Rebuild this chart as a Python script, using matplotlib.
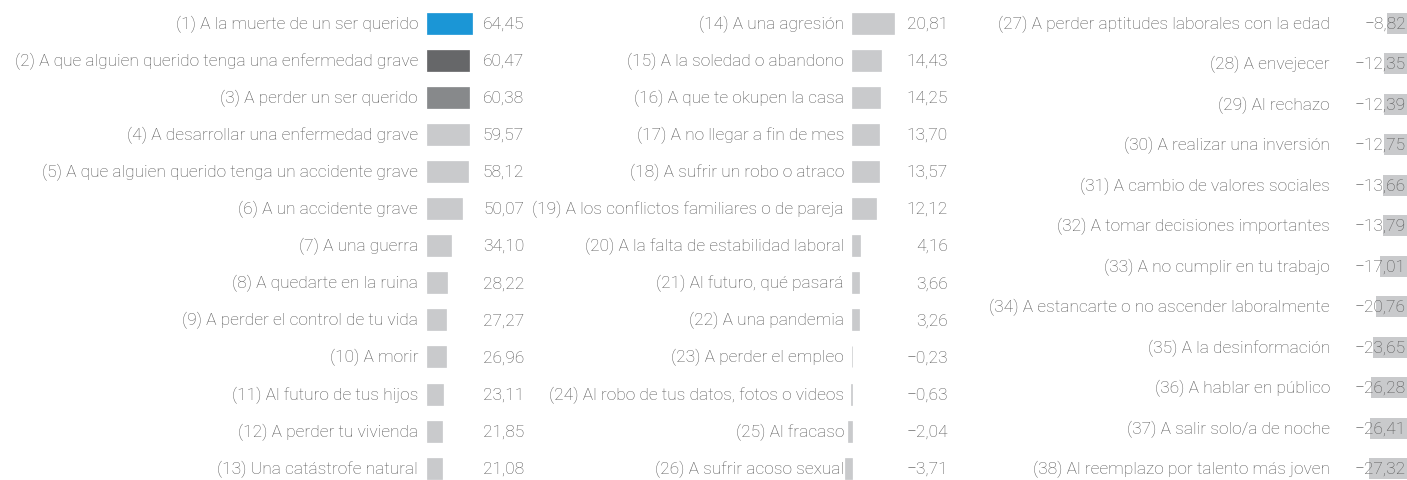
import matplotlib
matplotlib.use('Agg')
import matplotlib.pyplot as plt
from matplotlib.transforms import blended_transform_factory

plt.rcParams['font.family'] = ['Roboto', 'DejaVu Sans']

# Data, one list per column
labels_1 = ["(1) A la muerte de un ser querido",
            "(2) A que alguien querido tenga una enfermedad grave",
            "(3) A perder un ser querido",
            "(4) A desarrollar una enfermedad grave",
            "(5) A que alguien querido tenga un accidente grave",
            "(6) A un accidente grave",
            "(7) A una guerra",
            "(8) A quedarte en la ruina",
            "(9) A perder el control de tu vida",
            "(10) A morir",
            "(11) Al futuro de tus hijos",
            "(12) A perder tu vivienda",
            "(13) Una catástrofe natural"]
values_1 = [64.45, 60.47, 60.38, 59.57, 58.12, 50.07, 34.10, 28.22, 27.27, 26.96, 23.11, 21.85, 21.08]

labels_2 = ["(14) A una agresión",
            "(15) A la soledad o abandono",
            "(16) A que te okupen la casa",
            "(17) A no llegar a fin de mes",
            "(18) A sufrir un robo o atraco",
            "(19) A los conflictos familiares o de pareja",
            "(20) A la falta de estabilidad laboral",
            "(21) Al futuro, qué pasará",
            "(22) A una pandemia",
            "(23) A perder el empleo",
            "(24) Al robo de tus datos, fotos o videos",
            "(25) Al fracaso",
            "(26) A sufrir acoso sexual"]
values_2 = [20.81, 14.43, 14.25, 13.70, 13.57, 12.12, 4.16, 3.66, 3.26, -0.23, -0.63, -2.04, -3.71]

labels_3 = ["(27) A perder aptitudes laborales con la edad",
            "(28) A envejecer",
            "(29) Al rechazo",
            "(30) A realizar una inversión",
            "(31) A cambio de valores sociales",
            "(32) A tomar decisiones importantes",
            "(33) A no cumplir en tu trabajo",
            "(34) A estancarte o no ascender laboralmente",
            "(35) A la desinformación",
            "(36) A hablar en público",
            "(37) A salir solo/a de noche",
            "(38) Al reemplazo por talento más joven"]
values_3 = [-8.82, -12.35, -12.39, -12.75, -13.66, -13.79, -17.01, -20.76, -23.65, -26.28, -26.41, -27.32]

W, H = 1407, 481
fig = plt.figure(figsize=(W / 100, H / 100), dpi=100)

text_color = '#555555'
bar_grey = '#c9cacc'
first_colors = ['#1b96d6', '#666769', '#87898b']
fsize = 12.5
row_top = 24      # px of first row centre
bar_px = 21       # bar thickness in px


def make_axes(x0, x1, zero_px, px_per_unit, n_rows, row_step):
    ax = fig.add_axes([x0 / W, 0, (x1 - x0) / W, 1])
    ax.set_xlim((x0 - zero_px) / px_per_unit, (x1 - zero_px) / px_per_unit)
    last = n_rows - 1
    ax.set_ylim(last + (H - row_top - last * row_step) / row_step, -row_top / row_step)
    ax.axis('off')
    return ax, bar_px / row_step


def fmt(v):
    return f"{v:.2f}".replace('.', ',').replace('-', '\u2212')


def draw_column(ax, bar_h, labels, values, label_px, value_px, colors=None, to_edge=False):
    tr_lab = blended_transform_factory(fig.transFigure, ax.transData)
    for i, (lab, v) in enumerate(zip(labels, values)):
        c = colors[i] if colors and i < len(colors) else bar_grey
        if to_edge:
            # bars run from the value to the right border of the panel
            right = ax.get_xlim()[1]
            ax.barh(i, right - v, left=v, height=bar_h, color=c, zorder=1)
        else:
            ax.barh(i, v, height=bar_h, color=c, edgecolor=c, linewidth=0.5, zorder=1)
        ax.text(label_px / W, i, lab, transform=tr_lab, ha='right', va='center',
                fontsize=fsize, color=text_color, fontweight='light')
        ax.text(value_px / W, i, fmt(v), transform=tr_lab, ha='right', va='center',
                fontsize=fsize, color=text_color, fontweight='light', zorder=3)


ax1, h1 = make_axes(427, 527, 427, 0.70, len(values_1), 37.1)
draw_column(ax1, h1, labels_1, values_1, 418, 524, colors=first_colors)

ax2, h2 = make_axes(840, 950, 852, 2.0, len(values_2), 37.1)
draw_column(ax2, h2, labels_2, values_2, 844, 948)

ax3, h3 = make_axes(1340, 1407, 1396, 0.97, len(values_3), 40.5)
draw_column(ax3, h3, labels_3, values_3, 1330, 1406, to_edge=True)

fig.savefig('out.png', dpi=100)
